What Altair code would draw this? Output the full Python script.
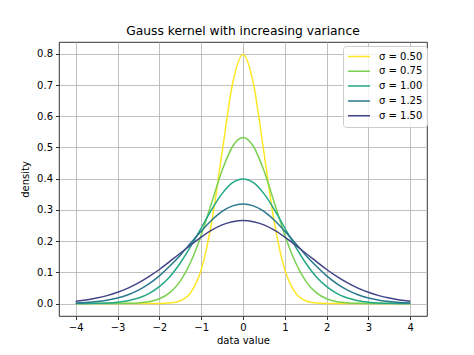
import altair as alt
import pandas as pd

# x positions (right half, mirrored for the left half)
x_half = [0.0, 0.25, 0.5, 0.75, 1.0, 1.25, 1.5, 1.75, 2.0, 2.25, 2.5, 2.75, 3.0, 3.25, 3.5, 3.75, 4.0]

sigma_labels = ["σ = 0.50", "σ = 0.75", "σ = 1.00", "σ = 1.25", "σ = 1.50"]
colors = ["#fde725", "#7ad151", "#22a884", "#2a788e", "#414487"]

dens_050 = [0.798, 0.704, 0.484, 0.259, 0.108, 0.035, 0.0089, 0.0017, 0.0003, 0.0, 0.0, 0.0, 0.0, 0.0, 0.0, 0.0, 0.0]
dens_075 = [0.532, 0.503, 0.426, 0.323, 0.219, 0.133, 0.072, 0.035, 0.0152, 0.0059, 0.0021, 0.0006, 0.0002, 0.0, 0.0, 0.0, 0.0]
dens_100 = [0.399, 0.387, 0.352, 0.301, 0.242, 0.183, 0.130, 0.086, 0.054, 0.032, 0.0175, 0.0091, 0.0044, 0.0020, 0.0009, 0.0004, 0.0001]
dens_125 = [0.319, 0.313, 0.295, 0.267, 0.232, 0.194, 0.155, 0.120, 0.0887, 0.0632, 0.0432, 0.0284, 0.0179, 0.0109, 0.0063, 0.0035, 0.0019]
dens_150 = [0.266, 0.262, 0.252, 0.235, 0.213, 0.188, 0.161, 0.135, 0.109, 0.0864, 0.0663, 0.0495, 0.0360, 0.0254, 0.0175, 0.0117, 0.0076]

series = [dens_050, dens_075, dens_100, dens_125, dens_150]

rows = []
for lab, vals in zip(sigma_labels, series):
    xs = [-v for v in x_half[::-1]] + x_half[1:]
    ys = vals[::-1] + vals[1:]
    for xv, yv in zip(xs, ys):
        rows.append({"x": xv, "density": yv, "sigma": lab})
df = pd.DataFrame(rows)

font = "DejaVu Sans"

chart = alt.Chart(df).mark_line(strokeWidth=1.5, interpolate="monotone").encode(
    x=alt.X("x:Q",
            scale=alt.Scale(domain=[-4.4, 4.4], nice=False, zero=False),
            axis=alt.Axis(title="data value", values=[-4, -3, -2, -1, 0, 1, 2, 3, 4], format="d")),
    y=alt.Y("density:Q",
            scale=alt.Scale(domain=[-0.0399, 0.8378], nice=False, zero=False),
            axis=alt.Axis(title="density", values=[0, 0.1, 0.2, 0.3, 0.4, 0.5, 0.6, 0.7, 0.8], format=".1f")),
    color=alt.Color("sigma:N",
                    scale=alt.Scale(domain=sigma_labels, range=colors),
                    legend=alt.Legend(title=None, orient="none", legendX=284, legendY=4,
                                      symbolType="stroke", symbolSize=480, symbolStrokeWidth=1.5,
                                      clipHeight=13, rowPadding=1.8, labelOffset=8,
                                      labelFontSize=10, labelFont=font, labelColor="black",
                                      padding=4, cornerRadius=3, strokeColor="#cccccc",
                                      fillColor="rgba(255,255,255,0.8)")),
    detail="sigma:N",
).properties(
    width=368, height=274,
    title=alt.Title("Gauss kernel with increasing variance", fontSize=12.3, font=font,
                    fontWeight="normal", color="black", offset=5),
    autosize=alt.AutoSizeParams(type="none"),
    padding={"left": 51, "top": 34, "right": 39, "bottom": 31},
).configure_axis(
    labelFont=font, labelFontSize=10, labelColor="black",
    titleFont=font, titleFontSize=10, titleFontWeight="normal", titleColor="black",
    grid=True, gridColor="#b0b0b0", gridWidth=0.8,
    domain=False, tickColor="black", tickWidth=0.8, tickSize=3.5, labelPadding=3,
).configure_axisX(titlePadding=3).configure_axisY(titlePadding=6).configure_view(
    stroke="black", strokeWidth=0.8
)

chart.save("out.html", embed_options={"renderer": "svg", "actions": False})
